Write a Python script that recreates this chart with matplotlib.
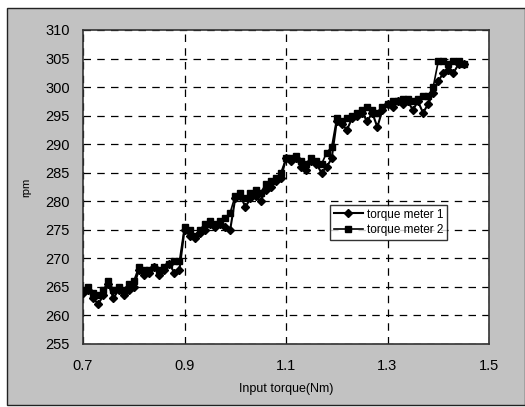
import matplotlib
matplotlib.use("Agg")
import matplotlib.pyplot as plt
import numpy as np
from matplotlib.patches import Rectangle

torque = [round(0.70 + 0.01 * i, 2) for i in range(76)]
meter1 = [264.0, 264.5, 263.0, 262.0, 263.5, 265.5, 263.0, 264.5, 263.5, 264.5,
          265.0, 268.0, 267.0, 267.5, 268.5, 267.0, 268.0, 269.0, 267.5, 268.0,
          275.0, 274.0, 273.5, 274.5, 275.0, 276.0, 275.5, 276.0, 275.5, 275.0,
          280.5, 281.0, 279.0, 280.5, 281.0, 280.0, 282.0, 282.5, 283.5, 284.0,
          287.5, 287.0, 287.5, 286.0, 285.5, 287.0, 286.5, 285.0, 286.0, 287.5,
          294.0, 293.5, 292.5, 294.5, 295.0, 295.5, 294.0, 295.5, 293.0, 296.0,
          297.0, 296.5, 297.5, 297.0, 297.5, 296.0, 297.5, 295.5, 297.0, 299.0,
          301.0, 302.5, 303.0, 302.5, 304.0, 304.0]
meter2 = [264.5, 265.0, 264.0, 263.5, 264.5, 266.0, 264.5, 265.0, 264.5, 265.5,
          266.0, 268.5, 268.0, 268.0, 268.5, 268.0, 268.5, 269.0, 269.5, 269.5,
          275.5, 275.0, 274.0, 275.0, 276.0, 276.5, 276.0, 276.5, 277.0, 278.0,
          281.0, 281.5, 280.5, 281.5, 282.0, 281.5, 283.0, 283.5, 284.0, 285.0,
          287.5, 287.5, 288.0, 287.0, 286.5, 287.5, 287.0, 286.5, 288.5, 289.5,
          294.5, 294.0, 294.5, 295.0, 295.5, 296.0, 296.5, 296.0, 295.5, 296.5,
          297.0, 297.5, 297.5, 298.0, 298.0, 297.5, 298.0, 298.5, 298.5, 300.0,
          304.5, 304.5, 304.0, 304.5, 304.5, 304.0]
x_ticks = [0.7, 0.9, 1.1, 1.3, 1.5]
y_ticks = list(range(255, 311, 5))

W, H = 525, 407
fig = plt.figure(figsize=(W / 100, H / 100), dpi=100, facecolor="white")
bg = Rectangle((7 / W, 2 / H), 1 - 7 / W, (H - 10) / H,
               transform=fig.transFigure, facecolor="#c2c2c2",
               edgecolor="#222222", linewidth=1.0, zorder=-10)
fig.patches.append(bg)

ax = fig.add_axes([83 / W, 1 - 344 / H, (489 - 83) / W, (344 - 30) / H])
ax.set_zorder(5)
ax.set_facecolor("white")
font = "Liberation Sans"

ax.plot(torque, meter1, color="black", lw=1.5, marker="D", ms=4.5, label="torque meter 1", zorder=3)
ax.plot(torque, meter2, color="black", lw=1.2, marker="s", ms=4.5, label="torque meter 2", zorder=3)

ax.set_xlim(0.7, 1.5)
ax.set_ylim(255, 310)
ax.set_xticks(x_ticks)
ax.set_xticklabels([f"{v:.1f}" for v in x_ticks], fontname=font, fontsize=10.5)
ax.set_yticks(y_ticks)
ax.set_yticklabels([str(v) for v in y_ticks], fontname=font, fontsize=10.5)
ax.tick_params(axis="y", length=0, pad=9.5)
ax.tick_params(axis="x", length=0, pad=11)
ax.grid(True, color="black", linestyle=(0, (6, 5)), linewidth=0.9)
for s in ax.spines.values():
    s.set_color("#333333")
    s.set_linewidth(1.2)

ax.set_xlabel("Input torque(Nm)", fontname=font, fontsize=9, labelpad=7)
ax.set_ylabel("rpm", fontname=font, fontsize=8, labelpad=10)

leg = ax.legend(loc="upper left", bbox_to_anchor=((330 - 83) / 406, 1 - (205 - 30) / 314),
                frameon=True, fancybox=False, prop={"family": font, "size": 8.5},
                handlelength=2.5, borderpad=0.3, labelspacing=0.3, handletextpad=0.3,
                borderaxespad=0)
leg.get_frame().set_edgecolor("black")
leg.get_frame().set_linewidth(1.0)

fig.savefig("out.png", dpi=100, facecolor=fig.get_facecolor())
